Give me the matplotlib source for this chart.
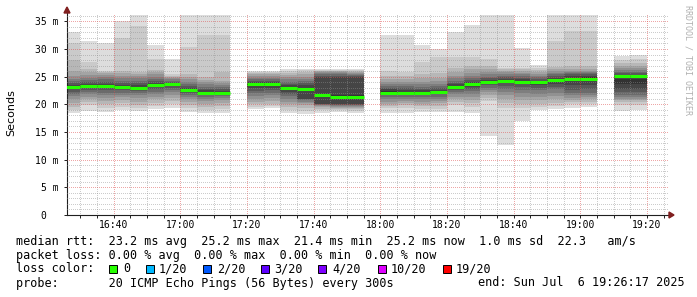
import numpy as np
import matplotlib.pyplot as plt
from matplotlib.patches import Rectangle, Polygon

# start of each 5 minute step (300s)
step_start = ["16:25", "16:30", "16:35", "16:40", "16:45", "16:50", "16:55",
              "17:00", "17:05", "17:10", "17:15", "17:20", "17:25", "17:30",
              "17:35", "17:40", "17:45", "17:50", "17:55", "18:00", "18:05",
              "18:10", "18:15", "18:20", "18:25", "18:30", "18:35", "18:40",
              "18:45", "18:50", "18:55", "19:00", "19:05", "19:10", "19:15"]

# median rtt in ms, None = no data
median_ms = [23.1, 23.3, 23.3, 23.1, 23.0, 23.5, 23.6, 22.6, 22.1, 22.1, None,
             23.6, 23.6, 23.0, 22.8, 21.7, 21.4, 21.4, None, 22.1, 22.1, 22.1,
             22.2, 23.2, 23.7, 24.0, 24.3, 24.1, 24.1, 24.4, 24.6, 24.6, None,
             25.2, 25.2]

# 20 sorted ping times per step (ms)
pings_ms = [
    [18.4, 19.0, 19.6, 20.3, 20.9, 21.5, 21.9, 22.3, 22.7, 23.0, 23.2, 23.5, 23.8, 24.2, 24.6, 25.2, 26.0, 28.0, 31.0, 33.0],
    [18.8, 19.9, 20.4, 20.9, 21.4, 21.8, 22.2, 22.6, 22.9, 23.2, 23.4, 23.7, 24.0, 24.4, 24.8, 25.3, 25.9, 26.3, 27.7, 31.5],
    [18.6, 19.4, 20.0, 20.6, 21.1, 21.6, 22.1, 22.5, 22.9, 23.2, 23.4, 23.7, 24.1, 24.5, 24.9, 25.3, 25.7, 25.9, 26.1, 31.0],
    [19.0, 19.6, 20.2, 20.8, 21.3, 21.7, 22.1, 22.5, 22.8, 23.0, 23.2, 23.5, 23.9, 24.3, 24.7, 25.1, 25.6, 26.0, 32.0, 35.0],
    [18.8, 19.3, 19.9, 20.5, 21.1, 21.6, 22.0, 22.4, 22.7, 22.9, 23.1, 23.4, 23.8, 24.2, 24.7, 25.1, 25.5, 25.9, 34.1, 36.2],
    [19.2, 19.7, 20.3, 20.9, 21.4, 21.9, 22.3, 22.7, 23.1, 23.4, 23.6, 23.9, 24.2, 24.6, 25.0, 25.4, 25.8, 26.2, 28.1, 30.7],
    [19.4, 20.0, 20.6, 21.2, 21.7, 22.2, 22.6, 23.0, 23.3, 23.5, 23.7, 23.9, 24.1, 24.3, 24.5, 24.7, 24.9, 25.1, 25.4, 28.1],
    [18.7, 19.3, 19.9, 20.4, 20.9, 21.3, 21.7, 22.0, 22.3, 22.5, 22.7, 23.0, 23.3, 23.7, 24.1, 24.5, 24.9, 25.5, 30.3, 36.1],
    [18.4, 19.0, 19.6, 20.1, 20.6, 21.0, 21.4, 21.7, 21.9, 22.0, 22.2, 22.5, 22.8, 23.2, 23.6, 24.0, 24.4, 25.0, 32.6, 36.1],
    [18.4, 19.1, 19.7, 20.2, 20.7, 21.1, 21.5, 21.8, 22.0, 22.1, 22.2, 22.4, 22.7, 23.1, 23.5, 23.9, 24.3, 25.9, 32.6, 36.1],
    None,
    [19.2, 19.6, 20.0, 20.5, 21.0, 21.5, 22.0, 22.4, 22.9, 23.4, 23.7, 24.0, 24.3, 24.5, 24.8, 25.1, 25.4, 25.7, 25.9, 26.1],
    [19.3, 19.7, 20.1, 20.6, 21.1, 21.6, 22.1, 22.5, 23.0, 23.4, 23.7, 24.0, 24.3, 24.5, 24.8, 25.1, 25.4, 25.7, 25.9, 26.1],
    [18.5, 19.0, 19.5, 20.0, 20.5, 21.0, 21.5, 21.9, 22.3, 22.8, 23.1, 23.4, 23.7, 24.1, 24.5, 24.9, 25.3, 25.7, 26.1, 26.4],
    [18.3, 18.8, 19.3, 19.8, 20.2, 20.5, 20.7, 20.9, 21.0, 22.6, 23.0, 23.5, 23.8, 24.2, 24.6, 25.0, 25.4, 25.8, 26.2, 26.4],
    [18.5, 18.9, 19.2, 19.5, 19.7, 19.8, 19.9, 20.0, 20.1, 21.5, 21.9, 25.0, 25.2, 25.4, 25.6, 25.8, 26.0, 26.1, 26.2, 26.3],
    [18.6, 18.9, 19.2, 19.4, 19.6, 19.7, 19.8, 19.9, 20.0, 21.2, 21.6, 25.0, 25.2, 25.4, 25.6, 25.8, 26.0, 26.1, 26.2, 26.4],
    [18.5, 18.8, 19.1, 19.4, 19.6, 19.7, 19.8, 19.9, 20.0, 21.2, 21.6, 25.0, 25.1, 25.3, 25.5, 25.7, 25.9, 26.1, 26.2, 26.3],
    None,
    [18.4, 19.3, 19.7, 20.1, 20.5, 20.9, 21.3, 21.7, 22.0, 22.2, 22.4, 22.7, 23.0, 23.3, 23.7, 24.1, 24.6, 25.2, 26.0, 32.6],
    [18.4, 19.3, 19.8, 20.2, 20.6, 21.0, 21.4, 21.8, 22.0, 22.1, 22.3, 22.6, 22.9, 23.3, 23.7, 24.1, 24.6, 25.2, 25.9, 32.5],
    [18.6, 19.2, 19.7, 20.1, 20.5, 20.9, 21.3, 21.7, 21.9, 22.0, 22.2, 22.5, 22.8, 23.2, 23.6, 24.1, 24.7, 25.5, 27.7, 30.8],
    [18.6, 19.2, 19.7, 20.2, 20.6, 21.0, 21.4, 21.8, 22.0, 22.1, 22.3, 22.6, 22.9, 23.3, 23.7, 24.2, 24.8, 25.6, 28.5, 30.0],
    [18.6, 19.9, 20.4, 20.9, 21.4, 21.8, 22.2, 22.6, 22.9, 23.1, 23.3, 23.6, 23.9, 24.3, 24.7, 25.2, 25.8, 26.6, 28.6, 33.1],
    [18.5, 19.6, 20.2, 20.8, 21.4, 21.9, 22.4, 22.8, 23.2, 23.5, 23.8, 24.1, 24.4, 24.8, 25.2, 25.7, 26.3, 27.0, 28.6, 34.4],
    [14.3, 20.6, 21.2, 21.7, 22.2, 22.6, 23.0, 23.4, 23.7, 23.9, 24.1, 24.4, 24.7, 25.0, 25.4, 25.8, 26.3, 26.9, 28.1, 36.2],
    [12.6, 19.3, 20.2, 21.0, 21.7, 22.3, 22.8, 23.3, 23.8, 24.1, 24.4, 24.6, 24.9, 25.2, 25.5, 25.8, 26.1, 26.4, 26.6, 36.2],
    [17.0, 19.3, 20.0, 20.7, 21.4, 22.0, 22.6, 23.1, 23.6, 23.9, 24.2, 24.5, 24.8, 25.1, 25.4, 25.7, 26.0, 26.3, 26.6, 30.1],
    [19.0, 19.5, 20.1, 20.7, 21.3, 21.9, 22.5, 23.0, 23.5, 23.9, 24.1, 24.3, 24.6, 24.9, 25.2, 25.5, 25.8, 26.2, 26.6, 27.1],
    [19.2, 19.7, 20.3, 20.9, 21.5, 22.1, 22.7, 23.2, 23.7, 24.2, 24.5, 24.8, 25.1, 25.4, 25.7, 26.0, 26.3, 26.7, 31.4, 36.2],
    [19.4, 20.0, 20.4, 20.8, 21.2, 21.6, 22.0, 22.6, 23.4, 24.2, 24.8, 25.2, 25.5, 25.7, 25.9, 26.1, 26.4, 26.9, 33.3, 36.2],
    [19.5, 20.1, 20.5, 20.9, 21.3, 21.7, 22.1, 22.7, 23.5, 24.3, 24.9, 25.2, 25.5, 25.7, 25.9, 26.1, 26.4, 26.9, 33.3, 36.2],
    None,
    [18.8, 19.9, 20.4, 20.7, 21.0, 21.3, 21.7, 22.2, 22.8, 23.6, 24.6, 25.3, 25.6, 25.9, 26.2, 26.6, 27.0, 27.5, 28.0, 28.8],
    [18.9, 19.9, 20.4, 20.7, 21.0, 21.3, 21.7, 22.2, 22.8, 23.6, 24.6, 25.3, 25.6, 25.9, 26.2, 26.6, 27.0, 27.5, 28.1, 28.9],
]

time_ticks = ["16:40", "17:00", "17:20", "17:40", "18:00", "18:20", "18:40", "19:00", "19:20"]
y_ticks = [0, 5, 10, 15, 20, 25, 30, 35]
y_tick_labels = ["0  ", "5 m", "10 m", "15 m", "20 m", "25 m", "30 m", "35 m"]

loss_labels = ["0", "1/20", "2/20", "3/20", "4/20", "10/20", "19/20"]
loss_colors = ["#26ff00", "#00b8ff", "#0059ff", "#5e00ff", "#7e00ff", "#dd00ff", "#ff0000"]

W, H = 697, 297
MONO = "DejaVu Sans Mono"


def to_min(s):
    h, m = s.split(":")
    return (int(h) - 16) * 60 + int(m)


starts = np.array([to_min(s) for s in step_start], dtype=float)
med = np.array([np.nan if v is None else v for v in median_ms])
P = np.array([[np.nan] * 20 if p is None else p for p in pings_ms])
ok = ~np.isnan(med)

fig = plt.figure(figsize=(W / 100, H / 100), dpi=100)
ax = fig.add_axes([67 / W, (H - 215) / H, (668 - 67) / W, (215 - 13) / H])

# smoke: outer pair lightest, inner pair darkest
for j in range(10):
    lo = P[ok, j]
    hi = P[ok, 19 - j]
    g = (50 + 19 * (9 - j)) / 255
    ax.bar(starts[ok], hi - lo, bottom=lo, width=5, align="edge",
           color=(g, g, g), linewidth=0, antialiased=False, zorder=1)

ax.hlines(med[ok], starts[ok], starts[ok] + 5, colors="#26ff00", lw=2.2, zorder=3)

ax.set_xlim(to_min("16:26"), to_min("19:26") + 0.3)
ax.set_ylim(0, 36.5)

ax.set_xticks([to_min(t) for t in time_ticks])
ax.set_xticklabels(time_ticks, family=MONO, fontsize=7)
ax.set_xticks(np.arange(to_min("16:30"), to_min("19:26"), 5), minor=True)
ax.set_yticks(y_ticks)
ax.set_yticklabels(y_tick_labels, family=MONO, fontsize=7)
ax.set_yticks(np.arange(1, 37), minor=True)

ax.tick_params(which="both", direction="out", length=2, width=0.7, color="#1f1f1f")
ax.tick_params(axis="x", which="major", pad=1.8)
ax.tick_params(axis="y", which="major", pad=4)
ax.tick_params(axis="y", which="minor", length=0)

ax.set_axisbelow(False)
ax.grid(which="minor", color="#8f8f8f", alpha=0.45, lw=0.72,
        linestyle=(0, (1, 2)), antialiased=False)
ax.grid(which="major", color="#de4f4f", alpha=0.5, lw=0.72,
        linestyle=(0, (1, 2)), antialiased=False)

for s in ["top", "right"]:
    ax.spines[s].set_visible(False)
ax.spines["left"].set_color("#1f1f1f")
ax.spines["bottom"].set_color("#1f1f1f")
ax.spines["left"].set_linewidth(0.8)
ax.spines["bottom"].set_linewidth(0.8)


def fx(px):
    return px / W


def fy(py):
    return 1 - py / H


# axis arrows
fig.add_artist(Polygon([(fx(668), fy(215)), (fx(672), fy(215))], closed=False,
                       edgecolor="#1f1f1f", lw=0.8, transform=fig.transFigure))
fig.add_artist(Polygon([(fx(669), fy(212)), (fx(674), fy(215)), (fx(669), fy(218))],
                       closed=True, color="#801f1f", transform=fig.transFigure))
fig.add_artist(Polygon([(fx(64), fy(13)), (fx(67), fy(7)), (fx(70), fy(13))],
                       closed=True, color="#801f1f", transform=fig.transFigure))

fig.text(fx(11), fy(113), "Seconds", rotation=90, fontsize=8, ha="center", va="center")
fig.text(fx(688), fy(60), "RRDTOOL / TOBI OETIKER", rotation=270, fontsize=6,
         family=MONO, color="#b0b0b0", ha="center", va="center")

# legend
fig.text(fx(16), fy(241),
         "median rtt:  23.2 ms avg  25.2 ms max  21.4 ms min  25.2 ms now  1.0 ms sd  22.3   am/s",
         family=MONO, fontsize=8.5, va="center")
fig.text(fx(16), fy(255),
         "packet loss: 0.00 % avg  0.00 % max  0.00 % min  0.00 % now",
         family=MONO, fontsize=8.5, va="center")
fig.text(fx(16), fy(269), "loss color:", family=MONO, fontsize=8.5, va="center")
box_x = [109, 146, 203, 261, 318, 378, 443]
label_x = [123, 159, 217, 274, 332, 391, 456]
for bx, lx, lab, col in zip(box_x, label_x, loss_labels, loss_colors):
    fig.add_artist(Rectangle((fx(bx), fy(273)), 8 / W, 8 / H, facecolor=col,
                             edgecolor="black", lw=0.7, transform=fig.transFigure))
    fig.text(fx(lx), fy(269), lab, family=MONO, fontsize=8.5, va="center")
fig.text(fx(16), fy(283), "probe:       20 ICMP Echo Pings (56 Bytes) every 300s",
         family=MONO, fontsize=8.5, va="center")
fig.text(fx(478), fy(283), "end: Sun Jul  6 19:26:17 2025",
         family=MONO, fontsize=8.5, va="center")

fig.savefig("out.png", dpi=100)
